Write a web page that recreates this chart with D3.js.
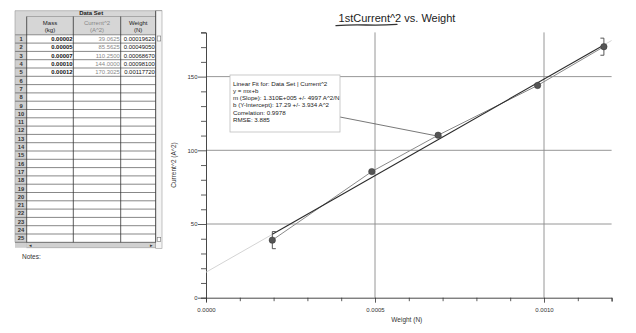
<!DOCTYPE html>
<html>
<head>
<meta charset="utf-8">
<script src="https://cdn.jsdelivr.net/npm/d3@7"></script>
<style>
  html, body { margin: 0; padding: 0; background: #fff; }
  svg { display: block; font-family: "Liberation Sans", Arial, sans-serif; }
</style>
</head>
<body>
<svg id="chart" width="636" height="333"></svg>
<script>
// Measurements: hanging masses and the squared current needed to balance them
const massKg   = [0.00002, 0.00005, 0.00007, 0.00010, 0.00012];
const current2 = [39.0625, 85.5625, 110.25, 144.0, 170.3025];
const weightN  = [0.0001962, 0.0004905, 0.0006867, 0.000981, 0.0011772];

// Display strings for the data table
const massText    = ["0.00002", "0.00005", "0.00007", "0.00010", "0.00012"];
const currentText = ["39.0625", "85.5625", "110.2500", "144.0000", "170.3025"];
const weightText  = ["0.00019620", "0.00049050", "0.00068670", "0.00098100", "0.00117720"];

// Linear fit results
const fitSlope = 1.310e5;
const fitIntercept = 17.29;
const fitText = [
  "Linear Fit for:  Data Set | Current^2",
  "y = mx+b",
  "m (Slope): 1.310E+005 +/- 4997 A^2/N",
  "b (Y-Intercept): 17.29 +/- 3.934 A^2",
  "Correlation: 0.9978",
  "RMSE: 3.885"
];

// Axis ticks
const xMajor = [0, 0.0005, 0.0010];
const xTicks = d3.range(0, 13).map(i => i / 10000);
const yMajor = [0, 50, 100, 150];
const yTicks = d3.range(0, 19).map(i => i * 10);

const svg = d3.select("#chart");

/* ---------------- data table ---------------- */
const tbl = svg.append("g");
const colEdges = [15, 26.7, 73.3, 120.7, 155.7];
const tTop = 10.7, dsBottom = 16.5, hdrBottom = 34.8, rowH = 8.3, nRows = 25;
const tBottom = hdrBottom + nRows * rowH;
const sbRight = 162;

// header backgrounds
tbl.append("rect").attr("x", colEdges[0]).attr("y", tTop)
  .attr("width", sbRight - colEdges[0]).attr("height", hdrBottom - tTop)
  .attr("fill", "#d6d6d6");
tbl.append("rect").attr("x", colEdges[0]).attr("y", hdrBottom)
  .attr("width", colEdges[1] - colEdges[0]).attr("height", tBottom - hdrBottom)
  .attr("fill", "#cfcfcf");
// vertical scrollbar
tbl.append("rect").attr("x", colEdges[4]).attr("y", tTop)
  .attr("width", sbRight - colEdges[4]).attr("height", tBottom - tTop + 6)
  .attr("fill", "#f4f4f4").attr("stroke", "#999").attr("stroke-width", 0.6);
tbl.append("rect").attr("x", colEdges[4] + 1.5).attr("y", 36)
  .attr("width", 3.5).attr("height", 5).attr("fill", "#fff")
  .attr("stroke", "#777").attr("stroke-width", 0.6);
tbl.append("rect").attr("x", colEdges[4] + 1.5).attr("y", tBottom - 5)
  .attr("width", 3.5).attr("height", 4).attr("fill", "#fff")
  .attr("stroke", "#777").attr("stroke-width", 0.6);
// horizontal scrollbar
tbl.append("rect").attr("x", colEdges[1]).attr("y", tBottom)
  .attr("width", colEdges[4] - colEdges[1]).attr("height", 5.5)
  .attr("fill", "#d0d0d0").attr("stroke", "#999").attr("stroke-width", 0.6);
tbl.append("rect").attr("x", colEdges[0]).attr("y", tBottom)
  .attr("width", colEdges[1] - colEdges[0]).attr("height", 5.5)
  .attr("fill", "#cfcfcf");
tbl.append("text").attr("x", colEdges[1] + 2).attr("y", tBottom + 4.6)
  .attr("font-size", 5).attr("fill", "#333").text("\u25C2");
tbl.append("text").attr("x", colEdges[4] - 6).attr("y", tBottom + 4.6)
  .attr("font-size", 5).attr("fill", "#333").text("\u25B8");

// row lines
for (let i = 0; i <= nRows; i++) {
  const y = hdrBottom + i * rowH;
  tbl.append("line").attr("x1", colEdges[0]).attr("x2", colEdges[4])
    .attr("y1", y).attr("y2", y)
    .attr("stroke", i === 0 ? "#666" : "#555").attr("stroke-width", 0.7);
}
tbl.append("line").attr("x1", colEdges[1]).attr("x2", colEdges[4])
  .attr("y1", dsBottom).attr("y2", dsBottom).attr("stroke", "#888").attr("stroke-width", 0.6);
// column lines
colEdges.forEach((x, i) => {
  tbl.append("line").attr("x1", x).attr("x2", x)
    .attr("y1", i === 0 || i === 4 ? tTop : dsBottom).attr("y2", tBottom)
    .attr("stroke", i === 0 ? "#999" : "#333").attr("stroke-width", i === 0 ? 0.6 : 0.8);
});
tbl.append("line").attr("x1", colEdges[0]).attr("x2", sbRight)
  .attr("y1", tTop).attr("y2", tTop).attr("stroke", "#999").attr("stroke-width", 0.6);

// header text
const hdrFont = 6;
tbl.append("text").attr("x", (colEdges[1] + colEdges[4]) / 2).attr("y", 15.4)
  .attr("text-anchor", "middle").attr("font-size", hdrFont).attr("font-weight", "bold")
  .attr("fill", "#222").text("Data Set");
const headers = [["Mass", "(kg)", "#222"], ["Current^2", "(A^2)", "#888"], ["Weight", "(N)", "#222"]];
headers.forEach((h, i) => {
  const cx = (colEdges[i + 1] + colEdges[i + 2]) / 2;
  tbl.append("text").attr("x", cx).attr("y", 24.6).attr("text-anchor", "middle")
    .attr("font-size", hdrFont).attr("fill", h[2]).text(h[0]);
  tbl.append("text").attr("x", cx).attr("y", 32.2).attr("text-anchor", "middle")
    .attr("font-size", hdrFont).attr("fill", h[2]).text(h[1]);
});

// row numbers
d3.range(1, nRows + 1).forEach(n => {
  tbl.append("text").attr("x", 21).attr("y", hdrBottom + (n - 0.5) * rowH + 2.2)
    .attr("text-anchor", "middle").attr("font-size", 5.8).attr("font-weight", "bold")
    .attr("fill", "#333").text(n);
});

// values
const cols = [
  { vals: massText, color: "#111", weight: "bold" },
  { vals: currentText, color: "#888", weight: "normal" },
  { vals: weightText, color: "#111", weight: "normal" }
];
cols.forEach((c, ci) => {
  c.vals.forEach((v, ri) => {
    tbl.append("text").attr("x", colEdges[ci + 2] - 0.8)
      .attr("y", hdrBottom + (ri + 0.5) * rowH + 2.2)
      .attr("text-anchor", "end").attr("font-size", 5.9)
      .attr("font-weight", c.weight).attr("fill", c.color).text(v);
  });
});

svg.append("text").attr("x", 22).attr("y", 259).attr("font-size", 6.5)
  .attr("fill", "#333").text("Notes:");

/* ---------------- graph ---------------- */
const x = d3.scaleLinear().domain([0, 0.0012]).range([206, 611.6]);
const y = d3.scaleLinear().domain([0, 180]).range([297.7, 32.4]);

// grid
const grid = svg.append("g").attr("stroke", "#8a8a8a").attr("stroke-width", 0.9);
[50, 100, 150].forEach(v => {
  grid.append("line").attr("x1", x(0)).attr("x2", x.range()[1])
    .attr("y1", y(v)).attr("y2", y(v));
});
[0.0005, 0.0010].forEach(v => {
  grid.append("line").attr("x1", x(v)).attr("x2", x(v))
    .attr("y1", y.range()[1]).attr("y2", y(0));
});

// axes
const isMajorY = v => yMajor.includes(v);
const yAxis = d3.axisLeft(y).tickValues(yTicks)
  .tickFormat(v => isMajorY(v) ? v : "").tickSize(5).tickPadding(3);
const gy = svg.append("g").attr("transform", `translate(${x(0)},0)`).call(yAxis);
gy.selectAll(".tick line").attr("x2", v => isMajorY(v) ? -8 : -5);
gy.selectAll(".tick text").attr("x", -8.5);

const isMajorX = v => xMajor.some(m => Math.abs(m - v) < 1e-9);
const xAxis = d3.axisBottom(x).tickValues(xTicks)
  .tickFormat(v => isMajorX(v) ? d3.format(".4f")(v) : "").tickSize(4).tickPadding(6);
const gx = svg.append("g").attr("transform", `translate(0,${y(0)})`).call(xAxis);
gx.selectAll(".tick line").attr("y2", v => isMajorX(v) ? 5 : 3.5);

[gx, gy].forEach(g => {
  g.select(".domain").attr("stroke", "#333").attr("stroke-width", 0.9);
  g.selectAll(".tick line").attr("stroke", "#333").attr("stroke-width", 0.8);
  g.selectAll(".tick text").attr("font-size", 6).attr("fill", "#333")
    .attr("font-family", "'Liberation Sans', Arial, sans-serif");
});

// axis titles
svg.append("text").attr("x", x(0.0006) - 2).attr("y", 322)
  .attr("text-anchor", "middle").attr("font-size", 6.5).attr("fill", "#333")
  .text("Weight (N)");
svg.append("text")
  .attr("transform", `translate(176,${y(90)}) rotate(-90)`)
  .attr("text-anchor", "middle").attr("font-size", 6.5).attr("fill", "#333")
  .text("Current^2 (A^2)");

// chart title
svg.append("text").attr("x", 397).attr("y", 22).attr("text-anchor", "middle")
  .attr("font-size", 11).attr("fill", "#222").text("1stCurrent^2 vs. Weight");
svg.append("path")
  .attr("d", "M336,25.6 Q350,24.6 366,25 T397,24.4")
  .attr("fill", "none").attr("stroke", "#333").attr("stroke-width", 1.3)
  .attr("stroke-linecap", "round");

// fitted line: faint outside the fit range, solid inside it
const fit = w => fitSlope * w + fitIntercept;
const wFirst = d3.min(weightN), wLast = d3.max(weightN);
const line = d3.line().x(d => x(d[0])).y(d => y(d[1]));
svg.append("path").datum([[0, fit(0)], [wFirst, fit(wFirst)]])
  .attr("d", line).attr("fill", "none").attr("stroke", "#cfcfcf").attr("stroke-width", 0.9);
svg.append("path").datum([[wLast, fit(wLast)], [0.0012, fit(0.0012)]])
  .attr("d", line).attr("fill", "none").attr("stroke", "#cfcfcf").attr("stroke-width", 0.9);

// connecting line through the measured points
const pts = weightN.map((w, i) => [w, current2[i]]);
svg.append("path").datum(pts).attr("d", line)
  .attr("fill", "none").attr("stroke", "#8a8a8a").attr("stroke-width", 1);

svg.append("path").datum([[wFirst, fit(wFirst)], [wLast, fit(wLast)]])
  .attr("d", line).attr("fill", "none").attr("stroke", "#2a2a2a").attr("stroke-width", 1.1);

// fit range brackets, centred on the first and last points
const bh = 5.8, bw = 3.5;
const brk = svg.append("g").attr("fill", "none").attr("stroke", "#444").attr("stroke-width", 0.9);
brk.append("path").attr("d",
  `M${x(wFirst) + bw},${y(current2[0] + bh)} H${x(wFirst)} V${y(current2[0] - bh)} H${x(wFirst) + bw}`);
brk.append("path").attr("d",
  `M${x(wLast) - bw},${y(current2[4] + bh)} H${x(wLast)} V${y(current2[4] - bh)} H${x(wLast) - bw}`);

// data points
svg.append("g").selectAll("circle").data(pts).join("circle")
  .attr("cx", d => x(d[0])).attr("cy", d => y(d[1])).attr("r", 3.2)
  .attr("fill", "#555").attr("stroke", "#333").attr("stroke-width", 0.5);

// fit annotation box with pointer to the line
const bx = 230, by = 75, bW = 110, bH = 57;
const anchorW = 0.0007;
svg.append("line").attr("x1", bx + bW).attr("y1", 117)
  .attr("x2", x(anchorW)).attr("y2", y(fit(anchorW)))
  .attr("stroke", "#555").attr("stroke-width", 0.8);
svg.append("rect").attr("x", bx).attr("y", by).attr("width", bW).attr("height", bH)
  .attr("fill", "#fff").attr("stroke", "#bdbdbd").attr("stroke-width", 0.8);
fitText.forEach((t, i) => {
  svg.append("text").attr("x", bx + 3).attr("y", by + 10.5 + i * 7.3)
    .attr("font-size", 6.2).attr("fill", "#222").text(t);
});
</script>
</body>
</html>
